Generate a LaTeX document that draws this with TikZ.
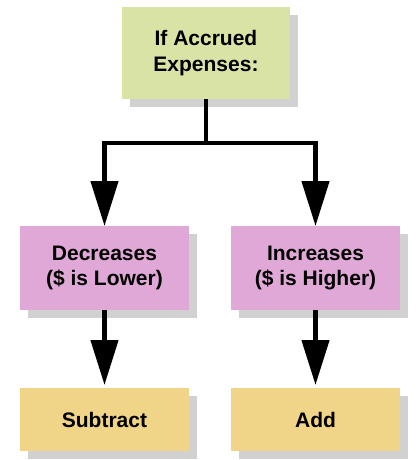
\documentclass[tikz,border=0pt]{standalone}
\usepackage{fontspec}
\setmainfont{Liberation Sans}
\usepackage{tikz}
\usetikzlibrary{arrows.meta,positioning,shadows}
\definecolor{topgreen}{HTML}{D9E3A5}
\definecolor{boxpink}{HTML}{E0A8D6}
\definecolor{boxgold}{HTML}{F0D488}
\begin{document}
\begin{tikzpicture}[
  x=1pt, y=-1pt,
  box/.style={rectangle, inner sep=0pt, outer sep=0pt, align=center,
    font=\bfseries\fontsize{21}{25.5}\selectfont,
    drop shadow={shadow xshift=8pt, shadow yshift=-8pt, fill=black!18, opacity=1}},
  arr/.style={line width=4.5pt, -{Triangle[length=45pt, width=27pt]}},
  >={Triangle[length=45pt, width=27pt]}
]
  \useasboundingbox (0,0) rectangle (418,460);

  \node[box, fill=topgreen, minimum width=168pt, minimum height=92pt] (top) at (206,53) {If Accrued\\Expenses:};
  \node[box, fill=boxpink, minimum width=169pt, minimum height=84pt] (dec) at (104.5,268) {Decreases\\(\$ is Lower)};
  \node[box, fill=boxpink, minimum width=169pt, minimum height=84pt] (inc) at (315.5,268) {Increases\\(\$ is Higher)};
  \node[box, fill=boxgold, minimum width=169pt, minimum height=63pt] (sub) at (104.5,419.5) {Subtract};
  \node[box, fill=boxgold, minimum width=169pt, minimum height=63pt] (add) at (315.5,419.5) {Add};
  \coordinate (split) at (206,143);

  \draw[arr] (top.south) -- (split) -| (dec.north);
  \draw[arr] (split) -| (inc.north);
  \draw[arr] (dec.south) -- ([yshift=3pt]sub.north);
  \draw[arr] (inc.south) -- ([yshift=3pt]add.north);
\end{tikzpicture}
\end{document}
